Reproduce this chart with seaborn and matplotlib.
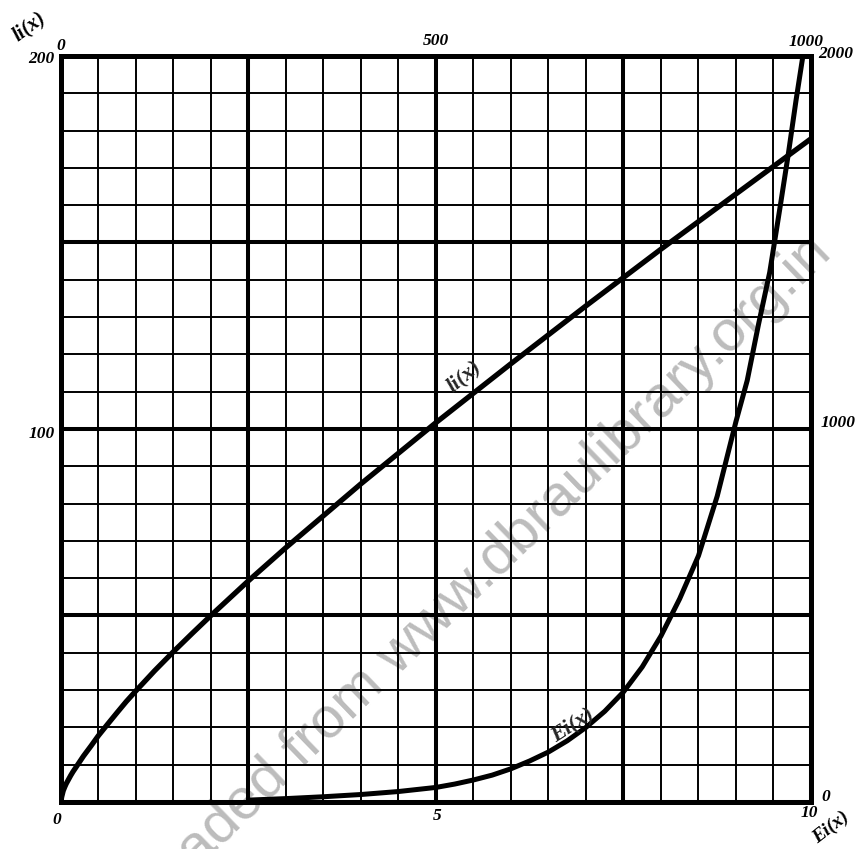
import matplotlib
matplotlib.use("Agg")
import matplotlib.pyplot as plt
import seaborn as sns
import pandas as pd
from matplotlib.ticker import MultipleLocator

# li(x): x on the top scale (0-1000), value on the left scale (0-200)
li_x = [0, 0.5, 1, 2, 3, 5, 7, 10, 13, 16, 20, 25, 30, 40, 50, 62, 75, 87,
        100, 125, 150, 175, 200, 250, 300, 400, 500, 600, 700, 800, 900, 1000]
li_y = [0, 0.8, 1.4, 2.2, 3.0, 4.0, 4.9, 6.0, 7.1, 8.1, 9.3, 10.8, 12.3,
        15.0, 17.8, 20.8, 24.0, 26.9, 29.8, 35.2, 40.3, 45.2, 50.0, 59.3,
        68.2, 85.3, 101.7, 117.5, 133.0, 148.2, 163.0, 177.8]

# Ei(x): x on the bottom scale (0-10), value on the right scale (0-2000)
ei_x = [2.5, 3.0, 3.5, 4.0, 4.5, 5.0, 5.25, 5.5, 5.75, 6.0, 6.25, 6.5, 6.75,
        7.0, 7.25, 7.5, 7.75, 8.0, 8.25, 8.5, 8.75, 9.0, 9.15, 9.3, 9.45,
        9.6, 9.7, 9.8, 9.9]
ei_y = [5, 9, 14, 20, 28, 39, 48, 59, 72, 89, 110, 134, 164, 200, 243, 295,
        362, 445, 545, 660, 820, 1020, 1130, 1280, 1420, 1610, 1740, 1880,
        2010]

bottom_ticks = [0, 5, 10]
top_ticks = [0, 500, 1000]
left_ticks = [100, 200]
right_ticks = [0, 1000, 2000]

li_df = pd.DataFrame({"x": li_x, "li": li_y})
ei_df = pd.DataFrame({"x": ei_x, "Ei": ei_y})

sns.set_theme(style="white")
plt.rcParams["font.family"] = ["Liberation Serif", "DejaVu Serif"]

fig = plt.figure(figsize=(8.61, 8.49), dpi=100)
rect = [0.0708, 0.0554, 0.8711, 0.8787]
ax = fig.add_axes(rect)
ax_li = fig.add_axes(rect, facecolor="none")

# grid paper (Ei scales)
ax.set_xlim(0, 10)
ax.set_ylim(0, 2000)
ax.xaxis.set_major_locator(MultipleLocator(2.5))
ax.xaxis.set_minor_locator(MultipleLocator(0.5))
ax.yaxis.set_major_locator(MultipleLocator(500))
ax.yaxis.set_minor_locator(MultipleLocator(100))
ax.set_axisbelow(True)
ax.grid(which="minor", color="black", lw=1.4)
ax.grid(which="major", color="black", lw=2.9)
ax.tick_params(which="both", length=0, labelbottom=False, labelleft=False)
for s in ax.spines.values():
    s.set_color("black")
    s.set_linewidth(3.6)

# watermark of the scan
ax.text(0.9675, 0.6996, "Downloaded from www.dbraulibrary.org.in",
        transform=fig.transFigure, ha="right", va="baseline", rotation=44,
        rotation_mode="anchor", fontsize=42, color="#bcbcbc",
        family=["Liberation Sans", "DejaVu Sans"], zorder=0.3, clip_on=False)

sns.lineplot(data=ei_df, x="x", y="Ei", ax=ax, color="black", lw=3.6,
             estimator=None, sort=False, zorder=3)
ax.set_xlim(0, 10)
ax.set_ylim(0, 2000)
ax.set_xlabel("")
ax.set_ylabel("")

sns.lineplot(data=li_df, x="x", y="li", ax=ax_li, color="black", lw=3.8,
             estimator=None, sort=False)
ax_li.set_xlim(0, 1000)
ax_li.set_ylim(0, 200)
ax_li.set_xticks([])
ax_li.set_yticks([])
ax_li.set_xlabel("")
ax_li.set_ylabel("")
for s in ax_li.spines.values():
    s.set_visible(False)

lab = dict(fontweight="bold", style="italic", color="black",
           textcoords="offset pixels", annotation_clip=False)

# bottom scale (Ei x)
offs_bottom = [(-4, -18), (1, -14), (-2, -11)]
for t, o in zip(bottom_ticks, offs_bottom):
    ax.annotate(str(t), (t, 0), xytext=o, ha="center", va="center",
                fontsize=12.5, **lab)
# right scale (Ei values)
offs_right = [(10, 5), (10, 6), (7, 2)]
for t, o in zip(right_ticks, offs_right):
    ax.annotate(str(t), (10, t), xytext=o, ha="left", va="center",
                fontsize=12.5, **lab)
# top scale (li x)
offs_top = [(0, 10), (0, 15), (-5, 14)]
for t, o in zip(top_ticks, offs_top):
    ax_li.annotate(str(t), (t, 200), xytext=o, ha="center", va="center",
                   fontsize=12.5, **lab)
# left scale (li values)
offs_left = [(-6, -5), (-6, -3)]
for t, o in zip(left_ticks, offs_left):
    ax_li.annotate(str(t), (0, t), xytext=o, ha="right", va="center",
                   fontsize=12.5, **lab)

# axis names
ax_li.annotate("li(x)", (0, 200), xytext=(-32, 29), ha="center", va="center",
               rotation=37, fontsize=15, **lab)
ax.annotate("Ei(x)", (10, 0), xytext=(20, -26), ha="center", va="center",
            rotation=38, fontsize=14, **lab)

# curve names
ax_li.text(538, 114, "li(x)", ha="center", va="center", rotation=40,
           fontsize=16, fontweight="bold", style="italic")
ax.text(6.82, 205, "Ei(x)", ha="center", va="center", rotation=33,
        fontsize=16, fontweight="bold", style="italic", zorder=4)

fig.savefig("out.png", dpi=100, facecolor="white")
